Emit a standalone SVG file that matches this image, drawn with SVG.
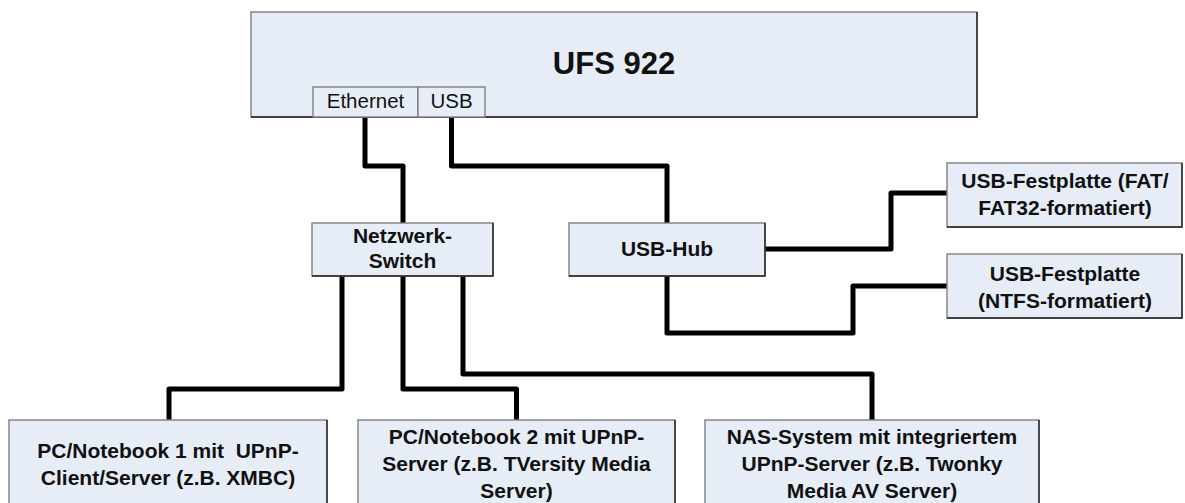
<svg xmlns="http://www.w3.org/2000/svg" width="1185" height="503" viewBox="0 0 1185 503">
<style>
.box{fill:#e6edf7;stroke:#7f7f7f;stroke-width:1.4}
.sh{fill:none;stroke:#222;stroke-width:1.4}
.t{font-family:"Liberation Sans",Arial,sans-serif;font-size:21px;font-weight:bold;fill:#111;text-anchor:middle}
.p{font-family:"Liberation Sans",Arial,sans-serif;font-size:20.5px;fill:#111;text-anchor:middle}
.c{fill:none;stroke:#000;stroke-width:5;stroke-linecap:round;stroke-linejoin:round}
</style>
<rect width="1185" height="503" fill="#fff"/>
<g id="connectors">
<path class="c" d="M365,117 V166 H403 V223"/>
<path class="c" d="M451.5,117 V166 H667 V223"/>
<path class="c" d="M765,249 H891 V193 H947"/>
<path class="c" d="M667,276 V333 H853 V286 H947"/>
<path class="c" d="M342,276 V389 H169 V420"/>
<path class="c" d="M403,276 V389 H516.5 V420"/>
<path class="c" d="M463,276 V374 H872 V420"/>
</g>
<g id="ufs922">
<rect class="box" x="251" y="12" width="726" height="105"/>
<path class="sh" d="M977,12 V117 H251"/>
<text class="t" x="614" y="74" style="font-size:31px">UFS 922</text>
</g>
<g id="port-ethernet">
<rect class="box" x="313" y="87" width="105" height="30"/>
<text class="p" x="365.5" y="108">Ethernet</text>
</g>
<g id="port-usb">
<rect class="box" x="418" y="87" width="67" height="30"/>
<text class="p" x="451.5" y="108">USB</text>
</g>
<g id="switch">
<rect class="box" x="312" y="223" width="181" height="53"/>
<path class="sh" d="M493,223 V276 H312"/>
<text class="t" x="402.5" y="243">Netzwerk-</text>
<text class="t" x="402.5" y="268">Switch</text>
</g>
<g id="usbhub">
<rect class="box" x="569" y="223" width="196" height="53"/>
<path class="sh" d="M765,223 V276 H569"/>
<text class="t" x="667" y="256">USB-Hub</text>
</g>
<g id="hdd-fat">
<rect class="box" x="947" y="163" width="235" height="64"/>
<path class="sh" d="M1182,163 V227 H947"/>
<text class="t" x="1065" y="188">USB-Festplatte (FAT/</text>
<text class="t" x="1065" y="215">FAT32-formatiert)</text>
</g>
<g id="hdd-ntfs">
<rect class="box" x="947" y="254" width="235" height="64"/>
<path class="sh" d="M1182,254 V318 H947"/>
<text class="t" x="1065" y="281">USB-Festplatte</text>
<text class="t" x="1065" y="308">(NTFS-formatiert)</text>
</g>
<g id="pc1">
<rect class="box" x="9" y="420" width="318" height="95"/>
<path class="sh" d="M327,420 V515"/>
<text class="t" x="168" y="458" xml:space="preserve">PC/Notebook 1 mit  UPnP-</text>
<text class="t" x="168" y="485">Client/Server (z.B. XMBC)</text>
</g>
<g id="pc2">
<rect class="box" x="358" y="420" width="317" height="95"/>
<path class="sh" d="M675,420 V515"/>
<text class="t" x="516.5" y="444">PC/Notebook 2 mit UPnP-</text>
<text class="t" x="516.5" y="471">Server (z.B. TVersity Media</text>
<text class="t" x="516.5" y="498">Server)</text>
</g>
<g id="nas">
<rect class="box" x="705" y="420" width="334" height="95"/>
<path class="sh" d="M1039,420 V515"/>
<text class="t" x="872" y="444">NAS-System mit integriertem</text>
<text class="t" x="872" y="471">UPnP-Server (z.B. Twonky</text>
<text class="t" x="872" y="498">Media AV Server)</text>
</g>
</svg>
